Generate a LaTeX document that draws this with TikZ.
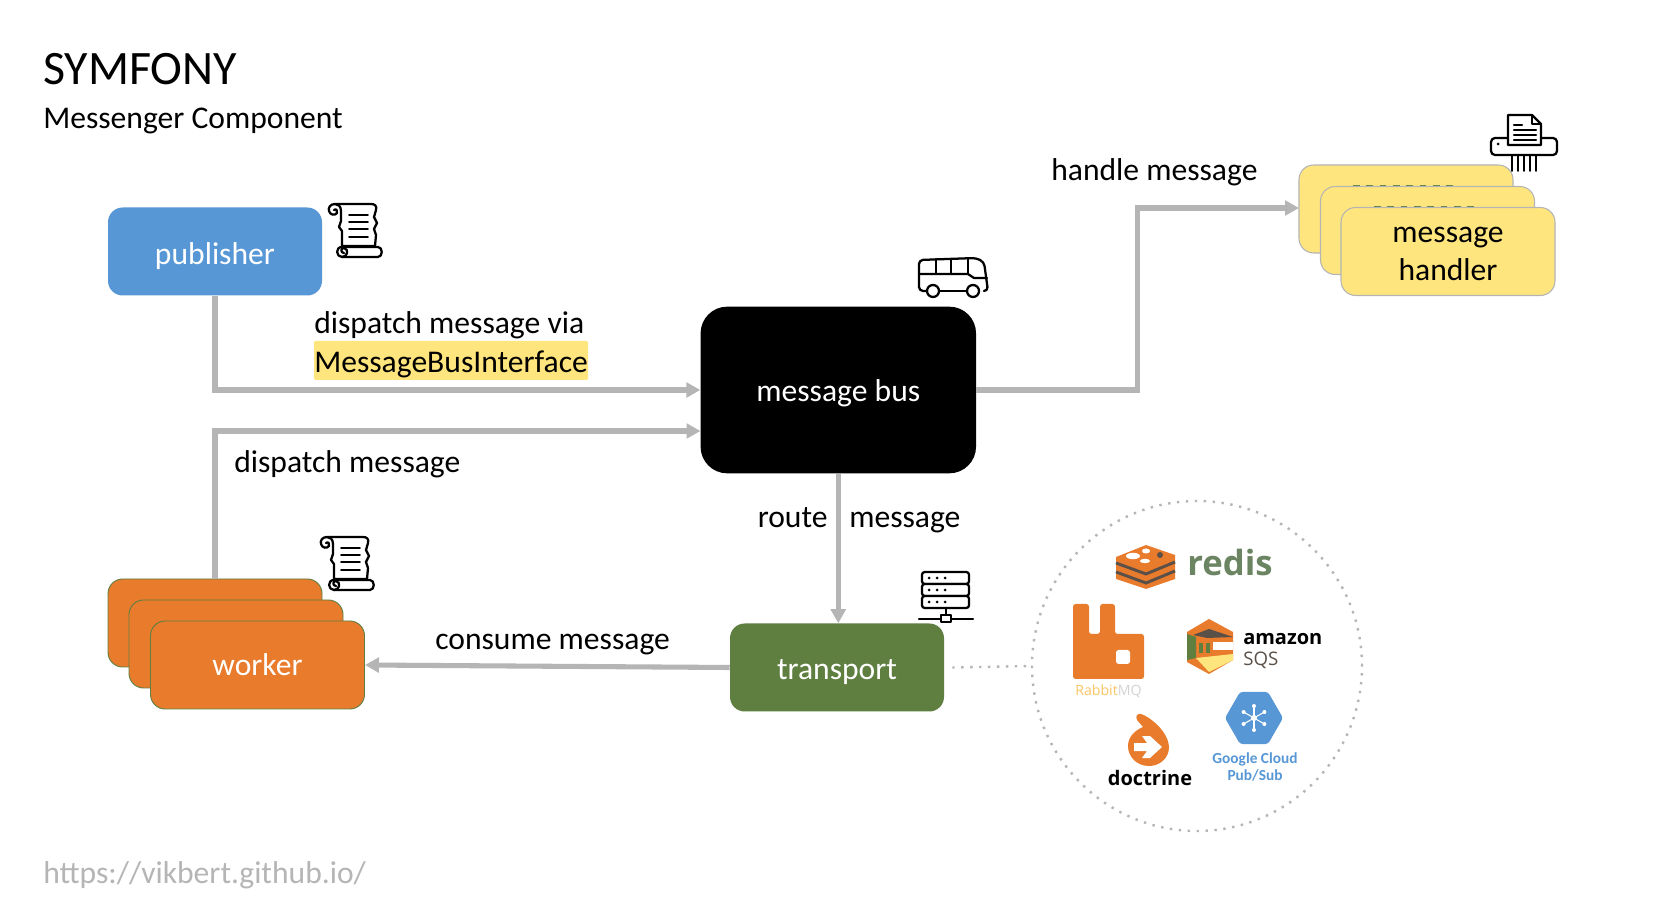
\documentclass[tikz,border=0pt]{standalone}
\usepackage{fontspec}
\setmainfont{Carlito}
\newfontfamily\logofont{Open Sans}
\usetikzlibrary{arrows.meta}
\definecolor{bluebox}{HTML}{5897D6}
\definecolor{orangebox}{HTML}{E97B2C}
\definecolor{greenbox}{HTML}{5F7F41}
\definecolor{yellowbox}{HTML}{FFE57D}
\definecolor{linegray}{HTML}{B5B5B5}
\definecolor{darkhatch}{HTML}{5A5048}
\definecolor{redisgreen}{HTML}{6B8462}
\tikzset{
  card/.style={rounded corners=11pt,minimum width=160.5pt,minimum height=66pt,inner sep=0pt,text=white,font=\fontsize{23.7}{28.5}\selectfont,align=center},
  cardpub/.style={card,fill=bluebox,text height=19.5pt,text depth=0pt},
  cardorange/.style={card,fill=orangebox,draw=greenbox,line width=0.7pt,text height=15.5pt,text depth=0pt},
  cardyellow/.style={card,fill=yellowbox,draw=linegray,line width=0.8pt,text=black},
  cardgreen/.style={card,fill=greenbox,text height=18pt,text depth=0pt},
  cardbus/.style={card,fill=black,rounded corners=20pt,minimum width=206.6pt,minimum height=125pt,text height=18pt,text depth=0pt},
  lbl/.style={inner sep=0pt,font=\fontsize{23.7}{28}\selectfont,text=black},
  conn/.style={draw=linegray,line width=3.8pt},
  arr/.style={conn,-{Triangle[length=10.5pt,width=11pt]}},
  icon/.style={draw=black,line width=1.7pt,line join=round,line cap=round},
  pics/scrollicon/.style={code={
    \draw[icon,fill=white] (8,1) -- (43,1) .. controls (47,1) and (49,3) .. (48,7) -- (46,14) -- (49,20) -- (46,26) -- (48,32) -- (47,43) -- (14,43) -- (14,28) -- (11,24) -- (13,18) -- (13,8);
    \draw[icon] (13,8) .. controls (13,3) and (10,1) .. (7,1) .. controls (2,1) and (0,5) .. (1,8) .. controls (2,12) and (7,13) .. (9,10) .. controls (10,8) and (8,5) .. (6,7);
    \draw[icon,fill=white] (14,44) -- (50,44) .. controls (55,44) and (55,54) .. (50,54) -- (14,54) .. controls (8,54) and (7,44) .. (14,44);
    \draw[icon] (14,54) .. controls (20,54) and (21,46) .. (16,45) .. controls (12,45) and (13,50) .. (16,50);
    \foreach \yy/\xa/\xb in {12/21/40,19/21/40,26/21/40,34/21/40}{\draw[icon,line width=1.4pt] (\xa,\yy) -- (\xb,\yy);}
  }},
  pics/shreddericon/.style={code={
    \draw[icon,fill=white,rounded corners=3pt] (0,23) rectangle (66,40);
    \fill (7,29) circle (1.5);
    \draw[icon,fill=white] (17,0) -- (41,0) -- (50,9) -- (50,30) -- (17,30) -- cycle;
    \draw[icon,line width=1.2pt] (41,0) -- (41,9) -- (50,9);
    \foreach \yy/\xb in {10/31,15/45,20/45,25/45}{\draw[icon] (23,\yy) -- (\xb,\yy);}
    \foreach \xx in {21,27,33,39,45}{\draw[icon,line width=1.2pt] (\xx,41) -- (\xx,56);}
  }},
  pics/busicon/.style={code={
    \draw[icon,rounded corners=3pt] (8,33) -- (1,33) -- (1,2) -- (58,0) -- (66,4) -- (70,33) -- (66,33);
    \draw[icon] (1,16) -- (50,16) -- (56,20) -- (69,20);
    \draw[icon] (18,1) -- (18,16) (33,1) -- (33,16) (50,1) -- (50,16);
    \draw[icon] (21,33) -- (49,33);
    \draw[icon] (15,33) circle (6);
    \draw[icon] (55,33) circle (6);
  }},
  pics/servericon/.style={code={
    \foreach \yy in {0,12,24}{
      \draw[icon,fill=white,rounded corners=2pt] (3,\yy) rectangle (50,\yy+12);
      \foreach \xx in {10,18,26}{\fill (\xx,\yy+6) circle (1.5);}
    }
    \draw[icon] (27,36) -- (27,44);
    \draw[icon] (0,47) -- (54,47);
    \draw[icon,fill=white,line width=1.3pt] (22,43) rectangle (32,50);
  }},
}
\begin{document}
\begin{tikzpicture}[x=0.75pt,y=-0.75pt]
\useasboundingbox[fill=white] (0,0) rectangle (1654,912);

% titles
\node[inner sep=0pt,anchor=west,font=\fontsize{36}{42}\selectfont] (title) at (43,69) {SYMFONY};
\node[inner sep=0pt,anchor=west,font=\fontsize{23.7}{28}\selectfont] (subtitle) at (43,121) {Messenger Component};
\node[inner sep=0pt,anchor=west,text=linegray,font=\fontsize{23.7}{28}\selectfont] (url) at (43,875) {https://vikbert.github.io/};

% boxes
\node[cardpub] (pub) at (215,251.5) {publisher};
\node[cardbus] (bus) at (838.3,390) {message bus};
\node[cardgreen] (trans) at (837,667.5) {transport};
\node[cardorange] (wback) at (215,623) {};
\node[cardorange] (wmid) at (236,644) {};
\node[cardorange] (worker) at (257.5,665) {worker};
\node[cardyellow] (hback) at (1406,209) {};
\draw[greenbox,line width=1pt,dash pattern=on 5pt off 5pt] (1353,186) -- (1457,186);
\node[cardyellow] (hmid) at (1427.5,230.5) {};
\draw[greenbox,line width=1pt,dash pattern=on 5pt off 5pt] (1374,207) -- (1478,207);
\node[cardyellow] (handler) at (1448,251.5) {\rule{0pt}{15.6pt}message\\handler};

% connector labels
\fill[yellowbox,rounded corners=1pt] (314,341) rectangle (588,380);
\node[lbl,anchor=west] (l1) at (314,325) {dispatch message via};
\node[lbl,anchor=west] (l2) at (314,364) {MessageBusInterface};
\node[lbl,anchor=west] (l3) at (234,464) {dispatch message};
\node[lbl,anchor=west] (l4) at (1051,172) {handle message};
\node[lbl,anchor=base west] (l5) at (757.5,527.5) {route};
\node[lbl,anchor=base west] (l6) at (849,527.5) {message};
\node[lbl,anchor=west] (l7) at (435,645) {consume message};

% connectors
\coordinate (busin2) at (700.5,431);
\coordinate (hin) at (1299,208);
\draw[arr] (pub.south) |- (bus.west);
\draw[arr] (wback.north) |- (busin2);
\draw[conn,-{Triangle[length=10.5pt,width=11pt]}] (bus.east) -- (1137.5,390) -- (1137.5,208) -- (hin);
\draw[arr] (bus.south) -- (trans.north -| bus.south);
\draw[arr] (trans.west) -- (worker.east);

% icons
\pic at (328,203) {scrollicon};
\pic at (320,536) {scrollicon};
\pic at (1491,115) {shreddericon};
\pic at (918,258) {busicon};
\pic at (919,572) {servericon};

% backend circle
\node[circle,draw=linegray,line width=1.8pt,dash pattern=on 1.8pt off 4.9pt,minimum size=247.5pt,inner sep=0pt] (cloud) at (1197,666) {};
\draw[linegray,line width=1.8pt,dash pattern=on 1.8pt off 4.9pt] (trans.east) ++(8,0) -- (cloud.west);

% redis
\fill[orangebox] (1116,557) -- (1146,545) -- (1175,555) -- (1175,579) -- (1146,589) -- (1116,579) -- cycle;
\draw[darkhatch,line width=2.2pt] (1116,563) -- (1146,574) -- (1175,562);
\draw[darkhatch,line width=2.2pt] (1116,572) -- (1146,583) -- (1175,571);
\fill[white] (1133,556) ellipse (7 and 3.2);
\fill[white] (1146,551) ellipse (4 and 2.5);
\fill[white] (1145,561) ellipse (5 and 2.2);
\fill[darkhatch] (1160,555) circle (3);
\node[inner sep=0pt,text=redisgreen,font=\logofont\bfseries\fontsize{26}{30}\selectfont] (redis) at (1230,563) {redis};

% rabbitmq
\fill[orangebox,rounded corners=2pt] (1073,604) -- (1089,604) -- (1089,634) -- (1100,634) -- (1100,604) -- (1115,604) -- (1115,634) -- (1144,634) -- (1144,679) -- (1073,679) -- cycle;
\fill[white,rounded corners=2pt] (1116,650) rectangle (1130,664);
\node[inner sep=0pt,anchor=west,font=\logofont\fontsize{10.6}{12}\selectfont] (rabbit) at (1075,691) {\textcolor{yellowbox!70!orangebox}{Rabbit}\textcolor{linegray!60}{MQ}};

% sqs
\fill[orangebox] (1187,632) -- (1209,619) -- (1233,632) -- (1233,660) -- (1209,674) -- (1187,662) -- cycle;
\fill[darkhatch] (1193,635) -- (1209,629) -- (1233,637) -- (1207,638) -- cycle;
\fill[yellowbox] (1196,658) -- (1233,654) -- (1233,660) -- (1209,672) -- cycle;
\fill[white] (1213,642) -- (1233,642) -- (1233,650) -- (1213,650) -- cycle;
\fill[greenbox] (1187,634) -- (1196,637) -- (1196,658) -- (1187,660) -- cycle;
\fill[greenbox] (1199,643) rectangle (1203,653);
\fill[greenbox] (1206,643) rectangle (1210,653);
\node[inner sep=0pt,anchor=west,font=\logofont\bfseries\fontsize{15}{17}\selectfont] (amazon) at (1243,639) {amazon};
\node[inner sep=0pt,anchor=west,text=darkhatch,font=\logofont\fontsize{14}{16}\selectfont] (sqs) at (1243,660) {SQS};

% google pub/sub
\fill[bluebox,rounded corners=2pt] (1225,718) -- (1240,692) -- (1268,692) -- (1283,718) -- (1268,744) -- (1240,744) -- cycle;
\fill[white] (1254,718) circle (3);
\foreach \a in {30,90,150,210,270,330}{
  \draw[white,line width=0.8pt] (1254,718) -- ++(\a:11);
  \fill[white] (1254,718) ++(\a:12) circle (2);
}
\node[inner sep=0pt,align=center,text=bluebox,font=\bfseries\fontsize{11.5}{13}\selectfont] (gcp) at (1255,767) {Google Cloud\\Pub/Sub};

% doctrine
\fill[orangebox] (1141,714) .. controls (1148,716) and (1168,730) .. (1169,747) .. controls (1169,758) and (1160,766) .. (1149,766) .. controls (1137,766) and (1128,757) .. (1128,746) .. controls (1128,736) and (1136,730) .. (1143,727) -- (1137,720) .. controls (1135,716) and (1138,713) .. (1141,714) -- cycle;
\fill[white] (1134,743) -- (1147,743) -- (1142,736) -- (1150,736) -- (1162,747) -- (1150,758) -- (1142,758) -- (1147,751) -- (1134,751) -- cycle;
\node[inner sep=0pt,font=\logofont\bfseries\fontsize{15}{18}\selectfont] (doctrine) at (1150,778) {doctrine};
\end{tikzpicture}
\end{document}
